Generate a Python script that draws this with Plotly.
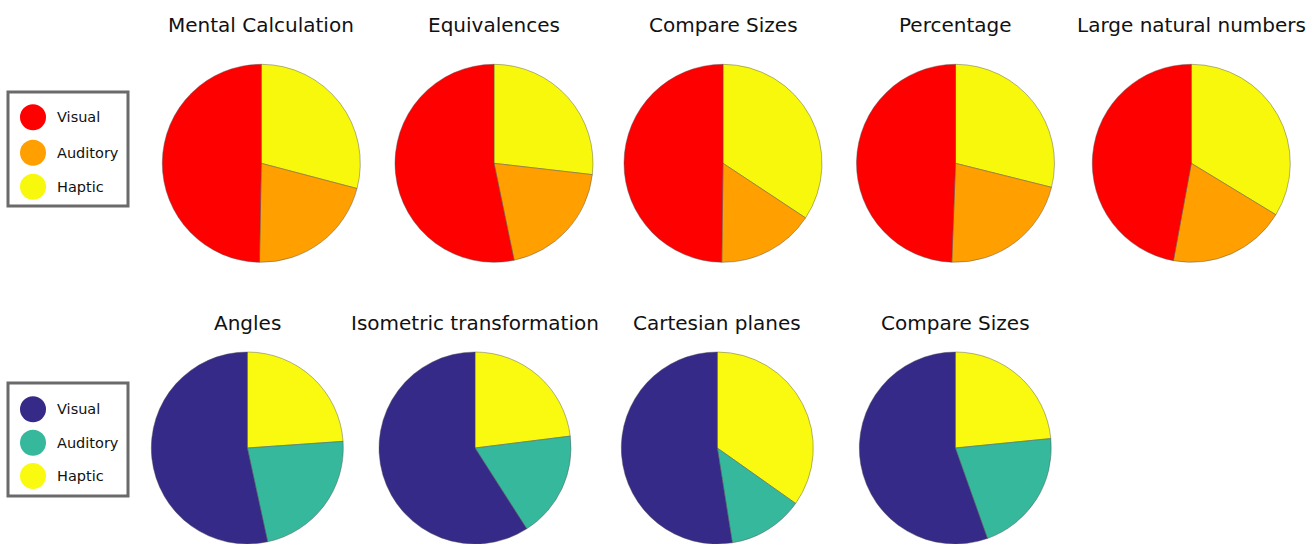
import plotly.graph_objects as go

# ---------------- data ----------------
categories = ["Visual", "Auditory", "Haptic"]

top_tasks = ["Mental Calculation", "Equivalences", "Compare Sizes", "Percentage", "Large natural numbers"]
top_visual = [49.7, 53.2, 49.8, 49.4, 47.1]
top_auditory = [21.2, 19.9, 15.9, 21.7, 19.2]
top_haptic = [29.1, 26.8, 34.3, 28.9, 33.7]

bottom_tasks = ["Angles", "Isometric transformation", "Cartesian planes", "Compare Sizes"]
bottom_visual = [53.4, 59.0, 52.5, 55.6]
bottom_auditory = [22.7, 17.9, 12.7, 21.2]
bottom_haptic = [23.9, 23.0, 34.8, 23.5]

warm_colors = {"Visual": "#FF0000", "Auditory": "#FF9F00", "Haptic": "#F7F80C"}
cool_colors = {"Visual": "#352A87", "Auditory": "#36B89D", "Haptic": "#F9FA0F"}

# ---------------- layout helpers ----------------
W, H = 1310, 544
FONT = "DejaVu Sans"


def px(x):
    return x / W


def py(y):
    return 1 - y / H


fig = go.Figure()
annotations = []
shapes = []


def add_row(tasks, visual, auditory, haptic, colors, centers_x, cy, r, title_y):
    for i, task in enumerate(tasks):
        cx = centers_x[i]
        y0 = max(0.0, py(cy + r))
        y1 = min(1.0, py(cy - r))
        labels = ["Haptic", "Auditory", "Visual"]
        vals = [haptic[i], auditory[i], visual[i]]
        fig.add_trace(go.Pie(
            labels=labels,
            values=vals,
            sort=False,
            direction="clockwise",
            rotation=0,
            textinfo="none",
            hoverinfo="label+percent",
            showlegend=False,
            marker=dict(colors=[colors[l] for l in labels],
                        line=dict(color="rgba(80,80,80,0.55)", width=0.8)),
            domain=dict(x=[px(cx - r), px(cx + r)], y=[y0, y1]),
        ))
        annotations.append(dict(
            text=task, x=px(cx), y=py(title_y), xref="paper", yref="paper",
            xanchor="center", yanchor="middle", showarrow=False,
            font=dict(family=FONT, size=20, color="#111111"),
        ))


def add_legend(colors, box, ys):
    x0, y0, x1, y1 = box
    shapes.append(dict(type="rect", xref="paper", yref="paper",
                       x0=px(x0), x1=px(x1), y0=py(y1), y1=py(y0),
                       line=dict(color="#6A6A6A", width=3), fillcolor="white"))
    for cat, yy in zip(categories, ys):
        rr = 13
        shapes.append(dict(type="circle", xref="paper", yref="paper",
                           x0=px(33 - rr), x1=px(33 + rr), y0=py(yy + rr), y1=py(yy - rr),
                           line=dict(width=0), fillcolor=colors[cat]))
        annotations.append(dict(
            text=cat, x=px(55), y=py(yy), xref="paper", yref="paper",
            xanchor="left", yanchor="middle", showarrow=False,
            font=dict(family=FONT, size=14.5, color="#111111"),
        ))


add_row(top_tasks, top_visual, top_auditory, top_haptic, warm_colors,
        [261.3, 494.0, 723.0, 955.5, 1191.3], 163.3, 99, 25)
add_row(bottom_tasks, bottom_visual, bottom_auditory, bottom_haptic, cool_colors,
        [247.3, 475.0, 717.3, 955.3], 448, 96, 323)

add_legend(warm_colors, (8, 92, 128, 206), [117.3, 152.7, 186.7])
add_legend(cool_colors, (8, 383, 128, 496), [409.3, 442.7, 476.0])

fig.update_layout(
    width=W, height=H,
    margin=dict(l=0, r=0, t=0, b=0),
    paper_bgcolor="white",
    plot_bgcolor="white",
    annotations=annotations,
    shapes=shapes,
    showlegend=False,
)

fig.write_html("out.html",
               config={"displayModeBar": False},
               post_script="document.body.style.margin='0';document.body.style.overflow='hidden';")
